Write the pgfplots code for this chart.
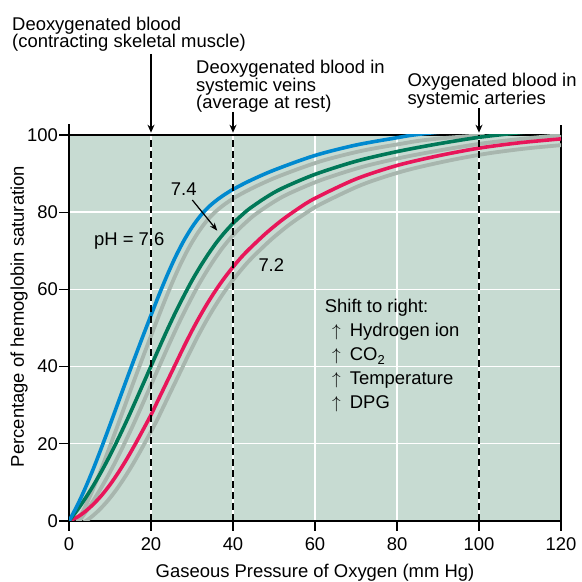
\documentclass[border=0pt]{standalone}
\usepackage{fontspec}
\setmainfont{Liberation Sans}
\usepackage{pgfplots}
\usepackage{pgfplotstable}
\pgfplotsset{compat=1.18}
\usetikzlibrary{arrows.meta}
\definecolor{bg}{RGB}{199,219,210}
\definecolor{cblue}{RGB}{0,137,207}
\definecolor{cgreen}{RGB}{0,120,88}
\definecolor{cred}{RGB}{232,22,90}
\definecolor{cshadow}{RGB}{168,182,174}

\pgfplotstableread{
x y
0 0
2 4.0
4 8.6
6 13.7
8 19.2
10 24.9
12 30.7
14 36.5
16 42.2
18 47.8
20 53.3
22 58.7
24 63.8
26 68.5
28 72.6
30 76.1
32 79.0
34 81.3
36 83.1
38 84.6
40 85.9
44 88.1
50 90.9
60 94.7
70 97.4
80 99.3
84 100.0
90 100.7
100 101.5
}\bluedata

\pgfplotstableread{
x y
0 0
2 2.8
4 5.9
6 9.3
8 13.0
10 17.0
12 21.3
14 25.8
16 30.5
18 35.3
20 40.1
22 44.9
24 49.6
26 54.1
28 58.3
30 62.3
32 65.9
34 69.2
36 72.2
38 74.8
40 77.1
42 79.1
44 80.9
48 83.8
52 86.2
60 89.8
70 93.2
80 95.7
90 97.7
100 99.4
110 100.6
120 101.6
}\greendata

\pgfplotstableread{
x y
0 0
2 1.0
4 2.5
6 4.4
8 6.7
10 9.4
12 12.5
14 15.9
16 19.6
18 23.5
20 27.5
22 31.9
24 36.3
26 40.7
28 45.1
30 49.3
32 53.2
34 56.8
36 60.1
38 63.1
40 65.8
42 68.3
44 70.5
48 74.5
52 78.0
56 81.0
60 83.6
70 88.6
80 92.1
90 94.6
100 96.6
110 98.0
120 99.0
}\reddata

\begin{document}
\begin{tikzpicture}[font=\fontsize{18.5}{21}\selectfont]
\begin{axis}[
  scale only axis, width=492bp, height=386bp,
  xmin=0, xmax=120, ymin=0, ymax=100,
  xtick={0,20,...,120}, ytick={0,20,...,100},
  axis background/.style={fill=bg},
  grid=major, major grid style={white, line width=1.4bp},
  tick align=outside, tick pos=left, major tick length=10bp,
  tick style={black, line width=1.2bp},
  axis line style={black, line width=1.6bp},
  /pgf/number format/assume math mode=true,
  tick label style={font=\fontsize{18.5}{21}\selectfont},
  yticklabel style={inner sep=1bp},
  xticklabel style={inner sep=1bp, yshift=-5bp},
  clip mode=individual,
]
\addplot[cshadow, line width=3.8bp, smooth] table[x expr=\thisrowno{0}+1.4, y expr=\thisrowno{1}-1.5] {\reddata};
\addplot[cshadow, line width=3.8bp, smooth] table[x expr=\thisrowno{0}+1.4, y expr=\thisrowno{1}-1.5] {\greendata};
\addplot[cshadow, line width=3.8bp, smooth] table[x expr=\thisrowno{0}+1.4, y expr=\thisrowno{1}-1.5] {\bluedata};
\addplot[cred, line width=3.6bp, smooth] table {\reddata};
\addplot[cgreen, line width=3.6bp, smooth] table {\greendata};
\addplot[cblue, line width=3.6bp, smooth] table {\bluedata};
\draw[black, line width=1.1bp, dash pattern=on 7bp off 4bp] (axis cs:20,0) -- (axis cs:20,100);
\draw[black, line width=1.1bp, dash pattern=on 7bp off 4bp] (axis cs:40,0) -- (axis cs:40,100);
\draw[black, line width=1.1bp, dash pattern=on 7bp off 4bp] (axis cs:100,0) -- (axis cs:100,100);
\draw[line width=1.2bp, -{Stealth[length=8bp,width=7bp]}] (axis cs:20,121) -- (axis cs:20,100.6);
\draw[line width=1.2bp, -{Stealth[length=8bp,width=7bp]}] (axis cs:40,106) -- (axis cs:40,100.6);
\draw[line width=1.2bp, -{Stealth[length=8bp,width=7bp]}] (axis cs:100,107) -- (axis cs:100,100.6);
\end{axis}
% axis line extensions above the frame
\draw[black, line width=1.6bp] (0,386bp) -- (0,397bp);
\draw[black, line width=1.6bp] (492bp,386bp) -- (492bp,396bp);
% titles
\node[anchor=base west, inner sep=0pt] at (-57bp,490.5bp) {Deoxygenated blood};
\node[anchor=base west, inner sep=0pt] at (-57bp,473bp) {(contracting skeletal muscle)};
\node[anchor=base west, inner sep=0pt] at (127bp,447bp) {Deoxygenated blood in};
\node[anchor=base west, inner sep=0pt] at (127bp,429.5bp) {systemic veins};
\node[anchor=base west, inner sep=0pt] at (127bp,412.5bp) {(average at rest)};
\node[anchor=base west, inner sep=0pt] at (338.3bp,434.5bp) {Oxygenated blood in};
\node[anchor=base west, inner sep=0pt] at (338.3bp,416.5bp) {systemic arteries};
% curve labels
\node[anchor=base west, inner sep=0pt] at (25bp,275bp) {pH = 7.6};
\node[anchor=base west, inner sep=0pt] at (101.7bp,325bp) {7.4};
\draw[line width=1.2bp, -{Stealth[length=8bp,width=6bp]}] (123.3bp,321bp) -- (148.3bp,290.3bp);
\node[anchor=base west, inner sep=0pt] at (189.3bp,249.3bp) {7.2};
% shift box
\node[anchor=base west, inner sep=0pt] at (255.7bp,208.7bp) {Shift to right:};
\node[anchor=base west, inner sep=0pt] at (263bp,184.3bp) {$\uparrow$};
\node[anchor=base west, inner sep=0pt] at (280.7bp,184.3bp) {Hydrogen ion};
\node[anchor=base west, inner sep=0pt] at (263bp,160bp) {$\uparrow$};
\node[anchor=base west, inner sep=0pt] at (280.7bp,160bp) {CO\raisebox{-0.35ex}{\fontsize{13}{15}\selectfont 2}};
\node[anchor=base west, inner sep=0pt] at (263bp,136.7bp) {$\uparrow$};
\node[anchor=base west, inner sep=0pt] at (280.7bp,136.7bp) {Temperature};
\node[anchor=base west, inner sep=0pt] at (263bp,112.7bp) {$\uparrow$};
\node[anchor=base west, inner sep=0pt] at (280.7bp,112.7bp) {DPG};
% axis labels
\node[anchor=base, inner sep=0pt] at (246bp,-56bp) {Gaseous Pressure of Oxygen (mm Hg)};
\node[anchor=base, inner sep=0pt, rotate=90] at (-45bp,204.5bp) {Percentage of hemoglobin saturation};
\pgfresetboundingbox
\path[use as bounding box] (-69bp,-61bp) rectangle (513bp,521bp);
\end{tikzpicture}
\end{document}
